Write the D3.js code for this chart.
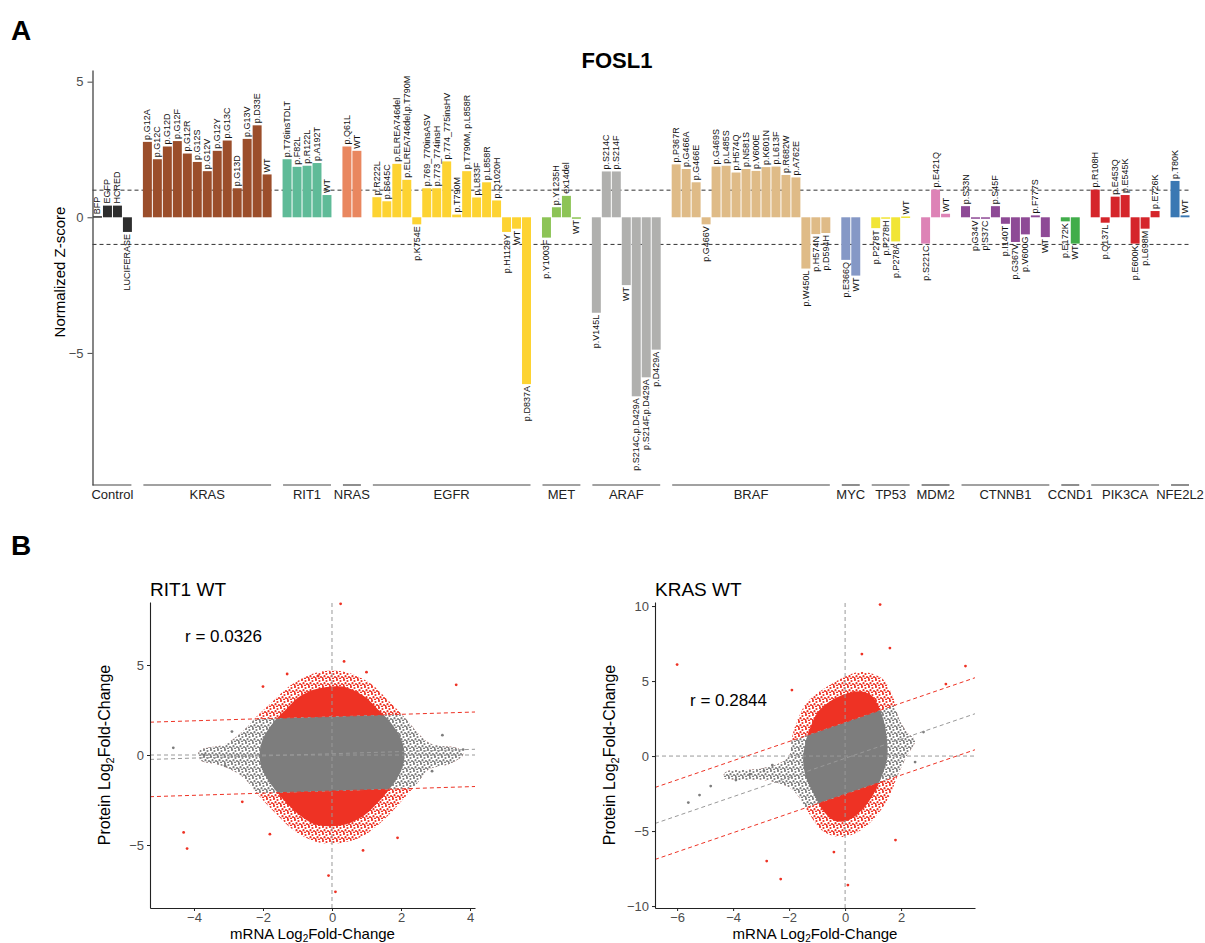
<!DOCTYPE html>
<html>
<head>
<meta charset="utf-8">
<script src="https://cdn.jsdelivr.net/npm/d3@7"></script>
<style>
  body { margin: 0; background: #fff; }
  svg text { font-family: "Liberation Sans", Arial, Helvetica, sans-serif; }
</style>
</head>
<body>
<div id="fig"></div>
<script>
// ---------------------------------------------------------------
// Panel A data : FOSL1 normalized z-score per variant
// ---------------------------------------------------------------
var genes = ["Control", "KRAS", "RIT1", "NRAS", "EGFR", "MET", "ARAF", "BRAF",
             "MYC", "TP53", "MDM2", "CTNNB1", "CCND1", "PIK3CA", "NFE2L2"];

var geneColors = ["#2e2e2e", "#9b4e2b", "#5fbb98", "#e9875f", "#fdd332", "#8dc456", "#b0b0ae",
                  "#dfbb87", "#8598c6", "#f1e536", "#dd83b6", "#8e4a96", "#41ad4a", "#d5252b", "#3a78b3"];

var variants = [
  ["BFP", "EGFP", "HCRED", "LUCIFERASE"],
  ["p.G12A", "p.G12C", "p.G12D", "p.G12F", "p.G12R", "p.G12S", "p.G12V", "p.G12Y", "p.G13C", "p.G13D", "p.G13V", "p.D33E", "WT"],
  ["p.T76insTDLT", "p.F82L", "p.R122L", "p.A192T", "WT"],
  ["p.Q61L", "WT"],
  ["p.R222L", "p.S645C", "p.ELREA746del", "p.ELREA746del,p.T790M", "p.K754E", "p.769_770insASV", "p.773_774insH",
   "p.774_775insHV", "p.T790M", "p.T790M, p.L858R", "p.L833F", "p.L858R", "p.Q1020H", "p.H1129Y", "WT", "p.D837A"],
  ["p.Y1003F", "p.Y1235H", "ex14del", "WT"],
  ["p.V145L", "p.S214C", "p.S214F", "WT", "p.S214C,p.D429A", "p.S214F,p.D429A", "p.D429A"],
  ["p.P367R", "p.G466A", "p.G466E", "p.G466V", "p.G469S", "p.L485S", "p.H574Q", "p.N581S", "p.V600E", "p.K601N",
   "p.L613F", "p.R682W", "p.A762E", "p.W450L", "p.H574N", "p.D594H"],
  ["p.E366Q", "WT"],
  ["p.P278T", "p.P278H", "p.P278A", "WT"],
  ["p.S221C", "p.E421Q", "WT"],
  ["p.S33N", "p.G34V", "p.S37C", "p.S45F", "p.I140T", "p.G367V", "p.V600G", "p.F777S", "WT"],
  ["p.E172K", "WT"],
  ["p.R108H", "p.Q137L", "p.E453Q", "p.E545K", "p.E600K", "p.L698M", "p.E726K"],
  ["p.T80K", "WT"]
];

var zScores = [
  [0.04, 0.43, 0.43, -0.54],
  [2.78, 2.14, 2.61, 2.81, 2.35, 2.04, 1.70, 2.45, 2.83, 1.07, 2.89, 3.39, 1.58],
  [2.14, 1.86, 1.90, 2.00, 0.82],
  [2.61, 2.45],
  [0.74, 0.59, 1.97, 1.38, -0.26, 1.07, 1.07, 2.06, 0.10, 1.70, 0.73, 1.29, 0.62, -0.54, -0.42, -6.15],
  [-0.75, 0.37, 0.79, -0.03],
  [-3.52, 1.69, 1.69, -2.50, -6.60, -5.90, -4.88],
  [1.95, 1.78, 1.29, -0.26, 1.87, 1.90, 1.65, 1.78, 1.71, 1.85, 1.87, 1.56, 1.47, -1.89, -0.62, -0.58],
  [-1.57, -2.15],
  [-0.40, -0.04, -0.89, 0.03],
  [-0.97, 1.02, 0.13],
  [0.41, -0.04, -0.04, 0.41, -0.24, -0.91, -0.63, 0.07, -0.73],
  [-0.15, -0.97],
  [1.02, -0.20, 0.76, 0.82, -0.97, -0.42, 0.23],
  [1.34, 0.07]
];

var zTicks = [-5, 0, 5];
var zThresholds = [1, -1];

// ---------------------------------------------------------------
// Panel B data : protein vs mRNA log2 fold-change
// dense centre of each cloud kept as outlines, sparse points listed
// ---------------------------------------------------------------
var rit1Core = [[-0.4, 3.7], [0.3, 3.8], [0.9, 3.3], [1.3, 2.6], [1.7, 1.8], [2.0, 0.9], [2.1, 0.0], [2.0, -0.9],
  [1.7, -1.8], [1.3, -2.7], [0.9, -3.4], [0.3, -3.9], [-0.4, -3.9], [-0.9, -3.4], [-1.3, -2.7], [-1.7, -1.8],
  [-2.0, -0.9], [-2.1, 0.0], [-2.0, 0.9], [-1.7, 1.8], [-1.3, 2.6], [-0.9, 3.3]];
var rit1Halo = [[-0.4, 4.6], [0.4, 4.6], [1.1, 4.0], [1.6, 3.1], [2.1, 2.1], [2.5, 1.2], [2.9, 0.6], [3.6, 0.4],
  [3.8, 0.0], [3.4, -0.5], [2.8, -0.8], [2.5, -1.5], [2.0, -2.6], [1.5, -3.6], [0.9, -4.5], [0.2, -4.9],
  [-0.5, -4.8], [-1.1, -4.2], [-1.6, -3.3], [-2.1, -2.3], [-2.6, -1.2], [-3.2, -0.6], [-3.8, -0.3],
  [-3.8, 0.3], [-3.1, 0.6], [-2.6, 1.3], [-2.1, 2.3], [-1.6, 3.2], [-1.1, 4.0]];
var rit1Points = [[0.25, 8.4], [0.35, 5.2], [-0.4, 4.4], [3.6, 3.9], [-2.0, 3.8], [-1.3, 4.5], [1.0, 4.6],
  [-4.3, -4.3], [-4.2, -5.2], [-0.1, -6.7], [0.1, -7.6], [1.9, -4.6], [-2.6, -2.6], [-1.8, -4.4], [0.9, -5.3],
  [-3.7, 0.0], [3.8, 0.3], [-4.6, 0.4], [2.9, -0.9], [-3.1, -0.6], [3.2, 1.1], [-2.9, 1.3]];
var rit1Fit = { intercept: 0.07, slope: 0.06, band: 2.07, r: "0.0326" };

var krasCore = [[-0.3, 3.9], [0.4, 4.3], [0.9, 4.1], [1.2, 3.3], [1.4, 2.2], [1.5, 1.0], [1.5, -0.2], [1.3, -1.4],
  [1.0, -2.6], [0.6, -3.6], [0.1, -4.3], [-0.4, -4.3], [-0.8, -3.6], [-1.1, -2.6], [-1.4, -1.4], [-1.5, -0.2],
  [-1.4, 1.0], [-1.2, 2.1], [-0.9, 3.1]];
var krasHalo = [[-0.4, 4.9], [0.5, 5.6], [1.3, 5.2], [1.7, 4.0], [1.9, 2.6], [2.2, 1.6], [2.5, 1.0], [2.2, 0.0],
  [1.9, -1.2], [1.6, -2.6], [1.2, -3.8], [0.6, -4.9], [-0.1, -5.4], [-0.8, -5.0], [-1.3, -3.8], [-1.7, -2.6],
  [-2.1, -2.0], [-2.9, -1.6], [-3.8, -1.6], [-4.3, -1.5], [-4.2, -1.0], [-3.3, -0.9], [-2.5, -0.6],
  [-2.0, 0.0], [-1.9, 1.2], [-1.7, 2.4], [-1.3, 3.7]];
var krasPoints = [[-6.0, 6.1], [1.25, 10.1], [4.3, 6.0], [3.6, 4.8], [-2.8, -7.0], [-2.3, -8.2], [0.1, -8.6],
  [-5.2, -2.6], [-4.8, -2.0], [-3.9, -1.6], [-3.4, -1.2], [-2.9, -1.0], [-2.6, -0.6], [-5.6, -3.1],
  [2.8, 1.6], [2.5, -0.4], [-1.9, 4.4], [0.6, 6.8], [1.6, 7.2], [-0.4, -6.4], [1.8, -5.6]];
var krasFit = { intercept: -0.15, slope: 0.64, band: 2.4, r: "0.2844" };

// ---------------------------------------------------------------
var svgWidth = 1205;
var svgHeight = 943;

var svg = d3.select("#fig").append("svg")
  .attr("width", svgWidth)
  .attr("height", svgHeight);

// panel letters
svg.append("text").attr("x", 11).attr("y", 40).attr("font-size", 28).attr("font-weight", "bold").text("A");
svg.append("text").attr("x", 11).attr("y", 555).attr("font-size", 28).attr("font-weight", "bold").text("B");

// ---------------------------------------------------------------
// PANEL A
// ---------------------------------------------------------------
var slots = [];
var bars = [];
genes.forEach(function(g, gi) {
  if (gi > 0) slots.push("gap" + gi);
  variants[gi].forEach(function(v, vi) {
    var id = g + "|" + vi;
    slots.push(id);
    bars.push({ id: id, gene: g, gi: gi, label: v, value: zScores[gi][vi] });
  });
});

var xA = d3.scaleBand().domain(slots).range([92.5, 1190]);
var yA = d3.scaleLinear().domain([-9.87, 5.43]).range([485, 70]);
var bw = xA.bandwidth();

svg.append("text")
  .attr("x", 617).attr("y", 68)
  .attr("text-anchor", "middle")
  .attr("font-size", 22).attr("font-weight", "bold")
  .text("FOSL1");

// threshold lines
svg.selectAll(".thr").data(zThresholds).enter().append("line")
  .attr("x1", 92.5).attr("x2", 1190)
  .attr("y1", d => yA(d)).attr("y2", d => yA(d))
  .attr("stroke", "#333").attr("stroke-width", 1)
  .attr("stroke-dasharray", "4,3");

// bars
svg.selectAll(".bar").data(bars).enter().append("rect")
  .attr("x", d => xA(d.id) + 0.5)
  .attr("width", bw - 1)
  .attr("y", d => d.value >= 0 ? yA(d.value) : yA(0))
  .attr("height", d => Math.max(1.5, Math.abs(yA(d.value) - yA(0))))
  .attr("fill", d => geneColors[d.gi]);

// variant labels
svg.selectAll(".vlab").data(bars).enter().append("text")
  .attr("transform", function(d) {
    var cx = xA(d.id) + bw / 2 + 3;
    var cy = d.value >= 0 ? yA(d.value) - 2 : yA(d.value) + 2;
    return "translate(" + cx + "," + cy + ") rotate(-90)";
  })
  .attr("text-anchor", d => d.value >= 0 ? "start" : "end")
  .attr("font-size", 9)
  .attr("fill", "#111")
  .text(d => d.label);

// y axis
var yAxisA = svg.append("g")
  .attr("transform", "translate(92.5,0)")
  .call(d3.axisLeft(yA).tickValues(zTicks).tickSize(5).tickSizeOuter(0).tickPadding(4));
yAxisA.select(".domain").attr("stroke", "#444").attr("stroke-width", 1.3);
yAxisA.selectAll(".tick line").attr("stroke", "#444");
yAxisA.selectAll(".tick text").attr("font-size", 13).attr("fill", "#4d4d4d")
  .attr("font-family", "Liberation Sans, Arial, sans-serif");

svg.append("text")
  .attr("transform", "translate(65,272) rotate(-90)")
  .attr("text-anchor", "middle")
  .attr("font-size", 15)
  .text("Normalized Z-score");

// gene group underlines and names
genes.forEach(function(g, gi) {
  var first = xA(g + "|0");
  var last = xA(g + "|" + (variants[gi].length - 1)) + bw;
  var x0 = gi === 0 ? 92.5 : first + 1;
  svg.append("line")
    .attr("x1", x0).attr("x2", last - 1)
    .attr("y1", 485).attr("y2", 485)
    .attr("stroke", "#444").attr("stroke-width", 1.2);
  svg.append("text")
    .attr("x", (first + last) / 2).attr("y", 499)
    .attr("text-anchor", "middle")
    .attr("font-size", 13).attr("fill", "#222")
    .text(g);
});

// ---------------------------------------------------------------
// PANEL B
// ---------------------------------------------------------------
var defs = svg.append("defs");
function speckle(id, color) {
  var p = defs.append("pattern").attr("id", id)
    .attr("width", 7).attr("height", 7).attr("patternUnits", "userSpaceOnUse");
  [[1, 1], [4.5, 2], [2.5, 4.2], [6, 5], [0.5, 6.2], [4, 6.5]].forEach(function(c) {
    p.append("circle").attr("cx", c[0]).attr("cy", c[1]).attr("r", 1.1).attr("fill", color);
  });
}
var grayPt = "#7d7d7d";
var redPt = "#ee3224";
speckle("spGray", grayPt);
speckle("spRed", redPt);

function drawScatter(cfg) {
  var x = d3.scaleLinear().domain(cfg.xDomain).range([cfg.left, cfg.right]);
  var y = d3.scaleLinear().domain(cfg.yDomain).range([cfg.bottom, cfg.top]);
  var fit = cfg.fit;
  var reg = v => fit.intercept + fit.slope * v;
  var g = svg.append("g");
  var line = d3.line().curve(d3.curveCardinalClosed).x(d => x(d[0])).y(d => y(d[1]));
  var straight = d3.line().x(d => x(d[0])).y(d => y(d[1]));
  var poly = pts => line(pts);

  // clip: band between the two red lines
  var x0 = cfg.xDomain[0], x1 = cfg.xDomain[1];
  var band = [[x0, reg(x0) + fit.band], [x1, reg(x1) + fit.band], [x1, reg(x1) - fit.band], [x0, reg(x0) - fit.band]];
  defs.append("clipPath").attr("id", cfg.id + "band").append("path").attr("d", straight(band) + "Z");

  // outside the band (red)
  g.append("path").attr("d", poly(cfg.halo)).attr("fill", "url(#spRed)");
  g.append("path").attr("d", poly(cfg.core)).attr("fill", redPt);
  // inside the band (gray)
  var gIn = g.append("g").attr("clip-path", "url(#" + cfg.id + "band)");
  gIn.append("path").attr("d", poly(cfg.halo)).attr("fill", "#fff");
  gIn.append("path").attr("d", poly(cfg.halo)).attr("fill", "url(#spGray)");
  gIn.append("path").attr("d", poly(cfg.core)).attr("fill", grayPt);

  g.selectAll(".pt").data(cfg.points).enter().append("circle")
    .attr("cx", d => x(d[0])).attr("cy", d => y(d[1])).attr("r", 1.4)
    .attr("fill", d => Math.abs(d[1] - reg(d[0])) > fit.band ? redPt : grayPt);

  // reference lines
  g.append("line").attr("x1", x(x0)).attr("x2", x(x1)).attr("y1", y(0)).attr("y2", y(0))
    .attr("stroke", "#999").attr("stroke-dasharray", "4,3");
  g.append("line").attr("x1", x(0)).attr("x2", x(0)).attr("y1", cfg.bottom).attr("y2", cfg.top)
    .attr("stroke", "#999").attr("stroke-dasharray", "4,3");
  g.append("line").attr("x1", x(x0)).attr("x2", x(x1)).attr("y1", y(reg(x0))).attr("y2", y(reg(x1)))
    .attr("stroke", "#999").attr("stroke-dasharray", "4,3");
  [fit.band, -fit.band].forEach(function(o) {
    g.append("line").attr("x1", x(x0)).attr("x2", x(x1))
      .attr("y1", y(reg(x0) + o)).attr("y2", y(reg(x1) + o))
      .attr("stroke", redPt).attr("stroke-width", 1).attr("stroke-dasharray", "4,3");
  });

  // axes
  var ax = g.append("g").attr("transform", "translate(0," + cfg.bottom + ")")
    .call(d3.axisBottom(x).tickValues(cfg.xTicks).tickSize(3).tickSizeOuter(0).tickPadding(2));
  var ay = g.append("g").attr("transform", "translate(" + cfg.left + ",0)")
    .call(d3.axisLeft(y).tickValues(cfg.yTicks).tickSize(3).tickSizeOuter(0).tickPadding(3));
  [ax, ay].forEach(function(a) {
    a.select(".domain").attr("stroke", "#222").attr("stroke-width", 1.1);
    a.selectAll(".tick line").attr("stroke", "#222");
    a.selectAll(".tick text").attr("font-size", 13).attr("fill", "#4d4d4d")
      .attr("font-family", "Liberation Sans, Arial, sans-serif");
  });

  // texts
  g.append("text").attr("x", cfg.left).attr("y", cfg.top - 6)
    .attr("font-size", 19).text(cfg.title);
  g.append("text").attr("x", cfg.rPos[0]).attr("y", cfg.rPos[1])
    .attr("font-size", 17).text("r = " + fit.r);

  var xt = g.append("text").attr("x", (cfg.left + cfg.right) / 2).attr("y", 939)
    .attr("text-anchor", "middle").attr("font-size", 15);
  xt.append("tspan").text("mRNA Log");
  xt.append("tspan").attr("font-size", 10).attr("dy", 3).text("2");
  xt.append("tspan").attr("dy", -3).text("Fold-Change");

  var yt = g.append("text")
    .attr("transform", "translate(" + (cfg.left - 40) + "," + ((cfg.top + cfg.bottom) / 2) + ") rotate(-90)")
    .attr("text-anchor", "middle").attr("font-size", 16);
  yt.append("tspan").text("Protein Log");
  yt.append("tspan").attr("font-size", 11).attr("dy", 4).text("2");
  yt.append("tspan").attr("dy", -4).text("Fold-Change");
}

drawScatter({
  id: "rit1", title: "RIT1 WT",
  left: 150, right: 475, top: 602, bottom: 908,
  xDomain: [-5.275, 4.145], yDomain: [-8.5, 8.5],
  xTicks: [-4, -2, 0, 2, 4], yTicks: [-5, 0, 5],
  core: rit1Core, halo: rit1Halo, points: rit1Points, fit: rit1Fit,
  rPos: [185, 642]
});

drawScatter({
  id: "kras", title: "KRAS WT",
  left: 655, right: 975, top: 602, bottom: 908,
  xDomain: [-6.79, 4.64], yDomain: [-10.13, 10.27],
  xTicks: [-6, -4, -2, 0, 2], yTicks: [-10, -5, 0, 5, 10],
  core: krasCore, halo: krasHalo, points: krasPoints, fit: krasFit,
  rPos: [690, 706]
});
</script>
</body>
</html>
